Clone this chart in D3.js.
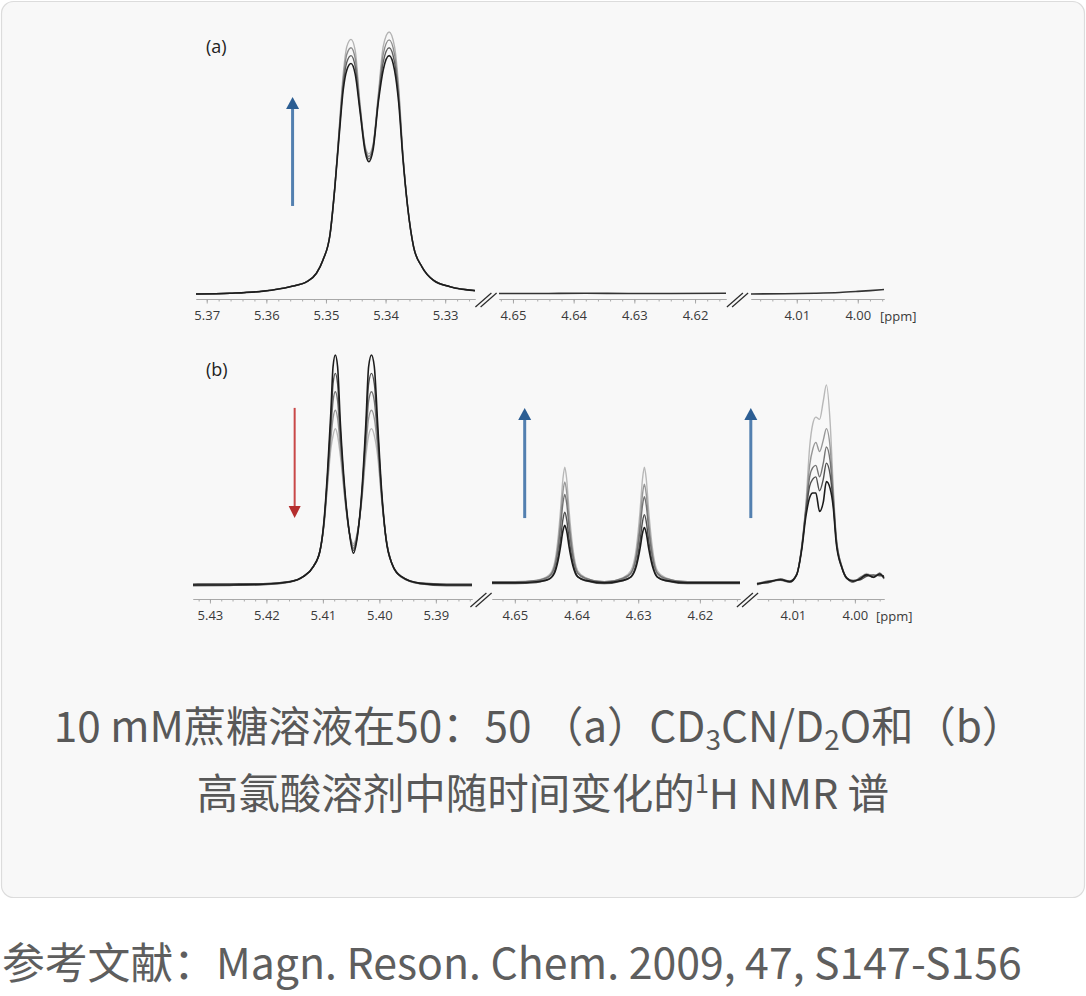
<!DOCTYPE html>
<html><head><meta charset="utf-8">
<script src="https://cdn.jsdelivr.net/npm/d3@7/dist/d3.min.js"></script>
<style>
html,body{margin:0;padding:0;background:#fff;}
svg{display:block;}
</style></head>
<body>
<svg id="chart" width="1086" height="996"></svg>
<script>
// ================= DATA =================
// Tick labels (ppm) of each axis segment
const a1Ticks = [5.37, 5.36, 5.35, 5.34, 5.33];
const a2Ticks = [4.65, 4.64, 4.63, 4.62];
const a3Ticks = [4.01, 4.00];
const b1Ticks = [5.43, 5.42, 5.41, 5.40, 5.39];
const b2Ticks = [4.65, 4.64, 4.63, 4.62];
const b3Ticks = [4.01, 4.00];

// Visible ppm extent of each axis segment (left edge, right edge)
const a1Extent = [5.3718, 5.3250];
const a2Extent = [4.6523, 4.6149];
const a3Extent = [4.0175, 3.9957];
const b1Extent = [5.4330, 5.3836];
const b2Extent = [4.6537, 4.6135];
const b3Extent = [4.0158, 3.9953];

// ---- Panel (a), CD3CN/D2O : segment 1 (anomeric doublet) ----
const a1Ppm = [5.3718, 5.3661, 5.3605, 5.3560, 5.3532, 5.3516, 5.3505, 5.3493, 5.3485, 5.3478,
               5.3471, 5.3465, 5.3458, 5.3451, 5.3443, 5.3434, 5.3428, 5.3421, 5.3412, 5.3404,
               5.3394, 5.3385, 5.3378, 5.3371, 5.3363, 5.3353, 5.3339, 5.3320, 5.3292, 5.3250];
// intensity (a.u.), spectra in time order (first = darkest)
const a1T0 = [0, 0.3, 1.1, 2.8, 4.7, 7.9, 13, 23, 41, 60, 78, 85.5, 88, 84, 70, 54, 50.5, 55, 73.5, 85.5,
              91, 85.5, 73, 52, 33.3, 18, 10.4, 5.3, 2.8, 1.3];
const a1T1 = [0, 0.3, 1.1, 2.8, 4.7, 7.9, 13, 23, 41, 61, 80, 88.5, 91, 87, 71, 55, 51.5, 56, 74.5, 88.5,
              94, 88.5, 75, 52.5, 33.3, 18, 10.4, 5.3, 2.8, 1.3];
const a1T2 = [0, 0.3, 1.1, 2.8, 4.7, 7.9, 13, 23, 41, 62, 82, 91.5, 94, 90, 72, 55.5, 52.5, 56.5, 75.5, 91.5,
              97, 91.5, 77, 53, 33.3, 18, 10.4, 5.3, 2.8, 1.3];
const a1T3 = [0, 0.3, 1.1, 2.8, 4.7, 7.9, 13, 23, 41, 62.6, 84, 94.4, 97.2, 93, 73, 56, 53.5, 57, 76.6, 94.4,
              100, 94.4, 79, 53.7, 33.3, 18, 10.4, 5.3, 2.8, 1.3];
// segment 2 and 3 of panel (a): flat baselines
const a2Ppm = [4.6523, 4.6450, 4.6380, 4.6310, 4.6240, 4.6149];
const a2T0  = [0.2, 0.2, 0.3, 0.2, 0.2, 0.3];
const a3Ppm = [4.0175, 4.0120, 4.0070, 4.0030, 4.0000, 3.9980, 3.9957];
const a3T0  = [0, 0.1, 0.3, 0.6, 1.0, 1.3, 1.7];

// ---- Panel (b), HClO4 : segment 1 (anomeric doublet, decreasing) ----
const b1Ppm = [5.4330, 5.4265, 5.4206, 5.4158, 5.4135, 5.4117, 5.4105, 5.4098, 5.4092, 5.4086,
               5.4082, 5.4078, 5.4074, 5.4069, 5.4061, 5.4053, 5.4046, 5.4039, 5.4031, 5.4024,
               5.4019, 5.4014, 5.4009, 5.4003, 5.3996, 5.3988, 5.3978, 5.3961, 5.3928, 5.3881, 5.3836];
const b1T0 = [0, 0, 0.3, 1.4, 3.6, 8, 15, 28, 48.5, 74.6, 95, 100, 95, 70, 41, 22.5, 13.8, 21, 41, 70,
              95, 100, 95, 70, 41, 19.6, 9.4, 3.6, 0.7, 0, 0];
const b1T1 = [0.4, 0.5, 0.6, 1.5, 3.7, 8, 15, 27.5, 47, 71, 87.5, 92, 87.5, 66.5, 40, 22.5, 15, 21.5, 40, 66.5,
              87.5, 92, 87.5, 66.5, 40, 19.6, 9.4, 3.8, 0.9, 0.4, 0.4];
const b1T2 = [-0.3, -0.2, 0.1, 1.3, 3.5, 8, 15, 27, 45.5, 67, 80, 84, 80, 63, 39, 22.5, 16, 22, 39, 63,
              80, 84, 80, 63, 39, 19.8, 9.4, 3.4, 0.5, -0.3, -0.3];
const b1T3 = [0.2, 0.3, 0.4, 1.5, 3.6, 8, 15, 26.5, 44, 63, 72.5, 76, 72.5, 59.5, 38, 22.5, 17, 22.5, 38, 59.5,
              72.5, 76, 72.5, 59.5, 38, 20, 9.4, 3.6, 0.8, 0.2, 0.2];
const b1T4 = [-0.1, 0.1, 0.2, 1.4, 3.6, 8, 15, 26, 42.5, 59, 65, 68, 65, 56, 37, 22.5, 18, 23, 37, 56,
              65, 68, 65, 56, 37, 20.2, 9.4, 3.6, 0.6, 0.1, -0.1];

// ---- Panel (b) segment 2 (two growing singlets) ----
const b2Ppm = [4.6537, 4.6500, 4.6465, 4.6445, 4.6436, 4.6430, 4.6426, 4.6422, 4.6419, 4.6416,
               4.6412, 4.6406, 4.6398, 4.6385, 4.6355, 4.6325, 4.6312, 4.6303, 4.6297, 4.6293,
               4.6290, 4.6287, 4.6283, 4.6277, 4.6269, 4.6256, 4.6220, 4.6180, 4.6135];
const b2T0 = [1.0, 1.0, 1.4, 2.5, 5, 10.5, 16.5, 23.5, 26, 23.5, 16.5, 8.5, 3.5, 2, 1.0,
              2, 3.4, 8.2, 15.9, 22.6, 25, 22.6, 15.9, 8.2, 3.4, 2, 1.0, 1.0, 1.0];
const b2T1 = [0.6, 0.6, 1.1, 2.5, 5.6, 12.4, 19.8, 28.5, 31.6, 28.5, 19.8, 9.9, 3.7, 1.8, 0.6,
              1.8, 3.6, 9.6, 19.2, 27.6, 30.6, 27.6, 19.2, 9.6, 3.6, 1.8, 0.6, 0.6, 0.6];
const b2T2 = [1.4, 1.4, 2.0, 3.7, 7.5, 15.8, 25, 35.6, 39.4, 35.6, 25, 12.8, 5.2, 2.9, 1.4,
              2.9, 5.1, 12.5, 24.3, 34.7, 38.4, 34.7, 24.3, 12.5, 5.1, 2.9, 1.4, 1.4, 1.4];
const b2T3 = [0.8, 0.8, 1.5, 3.4, 7.8, 17.5, 28.1, 40.4, 44.8, 40.4, 28.1, 14, 5.2, 2.6, 0.8,
              2.5, 5.1, 13.7, 27.5, 39.5, 43.8, 39.5, 27.5, 13.7, 5.1, 2.5, 0.8, 0.8, 0.8];
const b2T4 = [1.2, 1.2, 2.0, 4.2, 9.2, 20.2, 32.2, 46.2, 51.2, 46.2, 32.2, 16.2, 6.2, 3.2, 1.2,
              3.2, 6.2, 16.2, 32.2, 46.2, 51.2, 46.2, 32.2, 16.2, 6.2, 3.2, 1.2, 1.2, 1.2];

// ---- Panel (b) segment 3 (growing multiplet near 4.005 ppm) ----
const b3Ppm = [4.0158, 4.0140, 4.0120, 4.0105, 4.0094, 4.0086, 4.0079, 4.0073, 4.0068, 4.0063,
               4.0057, 4.0051, 4.0046, 4.0040, 4.0035, 4.0030, 4.0021, 4.0013, 4.0003, 3.9992,
               3.9981, 3.9970, 3.9960, 3.9953];
const b3T0 = [0.4, 1.4, 2.3, 1.4, 4.4, 15, 30, 38, 40, 40, 32, 36, 45, 42, 34, 18, 7.5, 3, 1.6, 2.6, 4.4, 3.4, 4.8, 3.2];
const b3T1 = [0.8, 1.0, 2.6, 1.6, 4.6, 15.5, 32, 43, 46, 47, 41, 46, 53, 48, 36, 19, 7.5, 2.8, 2, 2.2, 3.8, 4.4, 4, 4];
const b3T2 = [0.3, 1.8, 2.0, 1.2, 4.5, 16, 33, 47, 51, 52, 47, 53, 60, 54, 38, 20, 8, 3, 1.2, 3.2, 4.6, 3.2, 5.2, 2.6];
const b3T3 = [0.5, 1.2, 2.2, 1.8, 4.5, 16, 34, 52, 59, 62, 58, 63, 68, 60, 40, 20, 8, 3.2, 1.8, 2.8, 4.2, 4, 4.5, 3.5];
const b3T4 = [0, 1.5, 2.5, 1.5, 4.8, 16.7, 35.6, 60, 70, 73, 72, 80, 87, 71, 43, 21, 8, 3, 1.4, 2.5, 5, 3.6, 5, 3];

// Arrows (time trend): segment index, ppm position, start intensity -> end intensity
const arrowSeg  = [0, 3, 4, 5];
const arrowPpm  = [5.3556, 5.4150, 4.6484, 4.0168];
const arrowFrom = [33.6, 77, 29.1, 29.1];
const arrowTo   = [75.2, 29.1, 77, 77];
const arrowKind = ["up", "down", "up", "up"];

const panelLabels = ["(a)", "(b)"];
const unitLabel = "[ppm]";
const captionLine2 = "高氯酸溶剂中随时间变化的";
const referenceText = "参考文献：Magn. Reson. Chem. 2009, 47, S147-S156";

// ================= LAYOUT / STYLE =================
const svg = d3.select("#chart");
const W = 1086;

svg.append("rect").attr("x", 1.5).attr("y", 1.5).attr("width", 1083).attr("height", 896)
  .attr("rx", 12).attr("fill", "#f8f8f8").attr("stroke", "#dcdcdc").attr("stroke-width", 1.2);

const panels = {
  a: { base: 294, top: 32, axisY: 299, colors: ["#1c1c1c", "#5e5e5e", "#8c8c8c", "#b3b3b3"] },
  b: { base: 585, top: 355, axisY: 599, colors: ["#1c1c1c", "#4f4f4f", "#747474", "#979797", "#b8b8b8"] }
};

const segments = [
  { p: "a", ext: a1Extent, rng: [196, 475], ticks: a1Ticks, ppm: a1Ppm, traces: [a1T0, a1T1, a1T2, a1T3] },
  { p: "a", ext: a2Extent, rng: [499, 726], ticks: a2Ticks, ppm: a2Ppm, traces: [a2T0] },
  { p: "a", ext: a3Extent, rng: [751, 884], ticks: a3Ticks, ppm: a3Ppm, traces: [a3T0] },
  { p: "b", ext: b1Extent, rng: [193, 472], ticks: b1Ticks, ppm: b1Ppm, traces: [b1T0, b1T1, b1T2, b1T3, b1T4] },
  { p: "b", ext: b2Extent, rng: [492, 740], ticks: b2Ticks, ppm: b2Ppm, traces: [b2T0, b2T1, b2T2, b2T3, b2T4] },
  { p: "b", ext: b3Extent, rng: [757, 884], ticks: b3Ticks, ppm: b3Ppm, traces: [b3T0, b3T1, b3T2, b3T3, b3T4] }
];

segments.forEach(s => {
  const P = panels[s.p];
  s.x = d3.scaleLinear().domain(s.ext).range(s.rng);
  s.y = d3.scaleLinear().domain([0, 100]).range([P.base, P.top]);
});

const tickFont = "'Open Sans', 'Noto Sans', sans-serif";

// axes
segments.forEach(s => {
  const P = panels[s.p];
  const lo = Math.min(...s.ext), hi = Math.max(...s.ext);
  const minor = d3.range(Math.ceil(lo * 500), Math.floor(hi * 500) + 1).map(k => k / 500);
  const gMinor = svg.append("g").attr("transform", `translate(0,${P.axisY})`)
    .call(d3.axisBottom(s.x).tickValues(minor).tickSize(2.5).tickSizeOuter(0).tickFormat(""));
  const gMajor = svg.append("g").attr("transform", `translate(0,${P.axisY})`)
    .call(d3.axisBottom(s.x).tickValues(s.ticks).tickSize(4.5).tickSizeOuter(0).tickPadding(7)
      .tickFormat(d3.format(".2f")));
  [gMinor, gMajor].forEach(g => {
    g.select(".domain").attr("stroke", "#a8a8a8").attr("stroke-width", 1);
    g.selectAll(".tick line").attr("stroke", "#a0a0a0").attr("stroke-width", 0.9);
  });
  gMajor.selectAll(".tick text").attr("fill", "#3a3a3a").attr("font-size", 13)
    .attr("font-family", tickFont);
});

// axis breaks "//"
[[0, 1], [1, 2], [3, 4], [4, 5]].forEach(([i, j]) => {
  const s0 = segments[i], s1 = segments[j];
  const cx = (s0.rng[1] + s1.rng[0]) / 2 - 1;
  const cy = panels[s0.p].axisY + 1;
  [-2.6, 2.6].forEach(off => {
    svg.append("line")
      .attr("x1", cx - 8 + off).attr("y1", cy + 7)
      .attr("x2", cx + 8 + off).attr("y2", cy - 7)
      .attr("stroke", "#2a2a2a").attr("stroke-width", 1.2);
  });
});

// unit labels
svg.append("text").attr("x", 880).attr("y", 321).text(unitLabel)
  .attr("font-family", tickFont).attr("font-size", 13).attr("fill", "#3a3a3a");
svg.append("text").attr("x", 876).attr("y", 621).text(unitLabel)
  .attr("font-family", tickFont).attr("font-size", 13).attr("fill", "#3a3a3a");

// spectra
segments.forEach(s => {
  const P = panels[s.p];
  const line = d3.line().x(d => s.x(d[0])).y(d => s.y(d[1])).curve(d3.curveMonotoneX);
  const g = svg.append("g");
  const order = s.traces.map((t, i) => i).reverse(); // light first, darkest on top
  order.forEach(i => {
    const pts = s.ppm.map((p, k) => [p, s.traces[i][k]]);
    g.append("path").attr("d", line(pts)).attr("fill", "none")
      .attr("stroke", s.traces.length === 1 ? "#333" : P.colors[i])
      .attr("stroke-width", s.traces.length === 1 ? 1.6 : (i === 0 ? 1.6 : 1.4))
      .attr("stroke-linejoin", "round");
  });
});

// arrows
arrowSeg.forEach((si, k) => {
  const s = segments[si];
  const x = s.x(arrowPpm[k]);
  const y0 = s.y(arrowFrom[k]), y1 = s.y(arrowTo[k]);
  const up = arrowKind[k] === "up";
  const shaft = up ? "#5380b0" : "#c94848";
  const head = up ? "#2c5e93" : "#b52e2e";
  const hw = up ? 6.5 : 6, hl = 12;
  const dir = y1 < y0 ? -1 : 1;
  svg.append("line").attr("x1", x).attr("x2", x).attr("y1", y0).attr("y2", y1 - dir * hl)
    .attr("stroke", shaft).attr("stroke-width", up ? 3 : 2);
  svg.append("path")
    .attr("d", `M${x},${y1} L${x - hw},${y1 - dir * hl} L${x + hw},${y1 - dir * hl} Z`)
    .attr("fill", head);
});

// panel labels
svg.append("text").attr("x", 206).attr("y", 53).text(panelLabels[0])
  .attr("font-family", tickFont).attr("font-size", 18).attr("fill", "#222");
svg.append("text").attr("x", 206).attr("y", 376).text(panelLabels[1])
  .attr("font-family", tickFont).attr("font-size", 18).attr("fill", "#222");

// caption
const capFont = "'Noto Sans CJK SC', 'Noto Sans', sans-serif";
const cap1 = svg.append("text").attr("x", W / 2 - 4).attr("y", 742).attr("text-anchor", "middle")
  .attr("font-family", capFont).attr("font-size", 42.3).attr("fill", "#585858");
cap1.append("tspan").text("10 mM蔗糖溶液在50：50 （a）CD");
cap1.append("tspan").text("3").attr("font-size", 28).attr("dy", 8);
cap1.append("tspan").text("CN/D").attr("dy", -8);
cap1.append("tspan").text("2").attr("font-size", 28).attr("dy", 8);
cap1.append("tspan").text("O和（b）").attr("dy", -8);

const cap2 = svg.append("text").attr("x", W / 2).attr("y", 809).attr("text-anchor", "middle")
  .attr("font-family", capFont).attr("font-size", 41.5).attr("fill", "#585858");
cap2.append("tspan").text(captionLine2);
cap2.append("tspan").text("1").attr("font-size", 25).attr("dy", -16);
cap2.append("tspan").text("H NMR 谱").attr("dy", 16);

svg.append("text").attr("x", 2).attr("y", 979).text(referenceText)
  .attr("font-family", capFont).attr("font-size", 42.8).attr("fill", "#5e5e5e");
</script>
</body></html>
